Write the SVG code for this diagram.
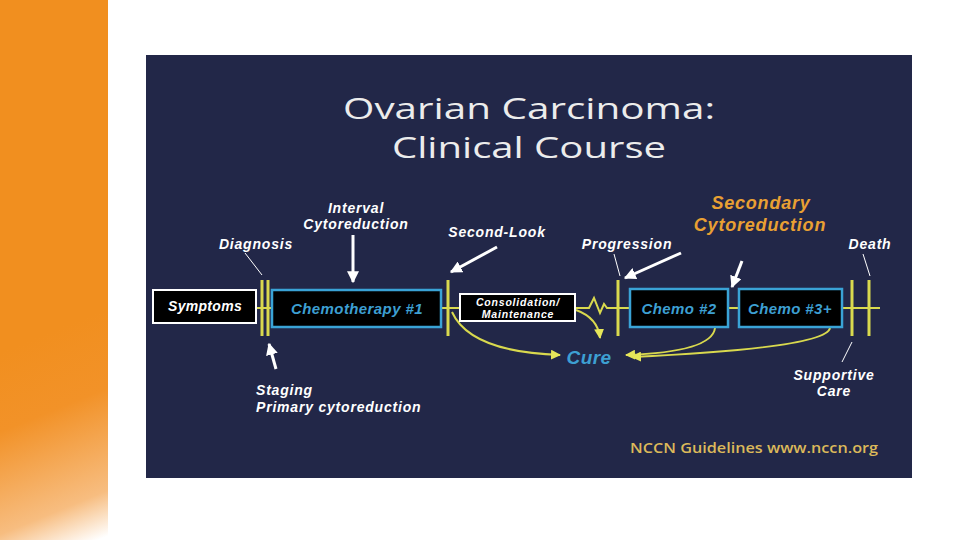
<svg xmlns="http://www.w3.org/2000/svg" width="960" height="540" viewBox="0 0 960 540">
<defs>
<linearGradient id="og" gradientUnits="userSpaceOnUse" x1="30" y1="340" x2="110" y2="535">
<stop offset="0" stop-color="#f18f1f"/>
<stop offset="0.35" stop-color="#f29228"/>
<stop offset="0.8" stop-color="#f7bd80"/>
<stop offset="1" stop-color="#ffffff"/>
</linearGradient>
<marker id="wa" viewBox="0 0 10 10" refX="9" refY="5" markerWidth="4" markerHeight="4" orient="auto"><path d="M0,0 L10,5 L0,10 z" fill="#ffffff"/></marker>
<marker id="ya" viewBox="0 0 10 10" refX="9" refY="5" markerWidth="5" markerHeight="5" orient="auto"><path d="M0,0 L10,5 L0,10 z" fill="#e6e65a"/></marker>
<style>
.lbl{font-family:"Liberation Sans",Arial,sans-serif;font-weight:bold;font-style:italic;font-size:14px;fill:#ffffff;letter-spacing:0.8px}
.wb{fill:#000;stroke:#ffffff;stroke-width:2}
.bb{fill:#000;stroke:#3aa3d6;stroke-width:2.5}
.bt{font-family:"Liberation Sans",Arial,sans-serif;font-weight:bold;font-style:italic;font-size:15px;fill:#3d9fd2;letter-spacing:0.4px}
.bar{stroke:#d9d94e;stroke-width:3}
.yl{stroke:#d9d94e;stroke-width:2;fill:none}
.wl{stroke:#ffffff;stroke-width:1;fill:none}
.wa{stroke:#ffffff;stroke-width:3;fill:none;marker-end:url(#wa)}
.ttl{font-family:"Open Sans","Liberation Sans",sans-serif;font-size:30px;fill:#ececec}
</style>
</defs>
<rect x="0" y="0" width="960" height="540" fill="#ffffff"/>
<rect x="0" y="0" width="108" height="540" fill="url(#og)"/>
<rect x="146" y="55" width="766" height="423" fill="#222748"/>
<g id="title">
<text class="ttl" x="529" y="119" text-anchor="middle" textLength="372" lengthAdjust="spacingAndGlyphs">Ovarian Carcinoma:</text>
<text class="ttl" x="529" y="158" text-anchor="middle" textLength="274" lengthAdjust="spacingAndGlyphs">Clinical Course</text>
</g>

<g id="connectors">
<line class="yl" x1="256" y1="308" x2="272" y2="308"/>
<line class="yl" x1="441" y1="308" x2="460" y2="308"/>
<path class="yl" d="M575,308 L589,308 L594,298 L600,313 L604,304 L607,308 L630,308"/>
<line class="yl" x1="728" y1="308" x2="739" y2="308"/>
<line class="yl" x1="842" y1="308" x2="880" y2="308"/>
<path class="yl" d="M576,310 Q598,318 600,338" marker-end="url(#ya)"/>
<path class="yl" d="M452,312 Q470,352 560,355" marker-end="url(#ya)"/>
<path class="yl" d="M715,328 Q712,352 626,355" marker-end="url(#ya)"/>
<path class="yl" d="M830,328 Q826,348 632,357" marker-end="url(#ya)"/>
<line class="wl" x1="245" y1="253" x2="262" y2="275"/>
<line class="wl" x1="614" y1="254" x2="620" y2="276"/>
<line class="wl" x1="863" y1="254" x2="870" y2="276"/>
<line class="wl" x1="852" y1="342" x2="842" y2="362"/>
<line class="wa" x1="353" y1="235" x2="353" y2="282"/>
<line class="wa" x1="276" y1="369" x2="269" y2="344"/>
<line class="wa" x1="497" y1="247" x2="451" y2="272"/>
<line class="wa" x1="681" y1="253" x2="625" y2="278"/>
<line class="wa" x1="742" y1="261" x2="732" y2="287"/>
</g>

<g id="diagnosis-bars"><line class="bar" x1="262" y1="280" x2="262" y2="336"/><line class="bar" x1="268" y1="280" x2="268" y2="336"/></g>
<g id="secondlook-bar"><line class="bar" x1="448" y1="280" x2="448" y2="336"/></g>
<g id="progression-bar"><line class="bar" x1="618" y1="280" x2="618" y2="336"/></g>
<g id="death-bars"><line class="bar" x1="852" y1="280" x2="852" y2="336"/><line class="bar" x1="869" y1="280" x2="869" y2="336"/></g>

<g id="symptoms"><rect class="wb" x="153" y="290" width="103" height="33"/><text class="lbl" x="205" y="311" text-anchor="middle" style="letter-spacing:0.3px">Symptoms</text></g>
<g id="chemo1"><rect class="bb" x="272" y="290" width="169" height="37"/><text class="bt" x="357" y="314" text-anchor="middle">Chemotherapy #1</text></g>
<g id="consolidation"><rect class="wb" x="460" y="294" width="115" height="27"/><text class="lbl" x="518" y="306" text-anchor="middle" style="font-size:10.5px">Consolidation/</text><text class="lbl" x="518" y="318" text-anchor="middle" style="font-size:10.5px">Maintenance</text></g>
<g id="chemo2"><rect class="bb" x="630" y="289" width="98" height="38"/><text class="bt" x="679" y="314" text-anchor="middle">Chemo #2</text></g>
<g id="chemo3"><rect class="bb" x="739" y="289" width="103" height="38"/><text class="bt" x="790" y="314" text-anchor="middle">Chemo #3+</text></g>
<g id="cure"><text class="bt" x="589" y="364" text-anchor="middle" style="font-size:19px">Cure</text></g>

<g id="labels">
<text class="lbl" x="256" y="249" text-anchor="middle">Diagnosis</text>
<text class="lbl" x="356" y="213" text-anchor="middle">Interval</text>
<text class="lbl" x="356" y="229" text-anchor="middle">Cytoreduction</text>
<text class="lbl" x="497" y="237" text-anchor="middle">Second-Look</text>
<text class="lbl" x="627" y="249" text-anchor="middle">Progression</text>
<text class="lbl" x="870" y="249" text-anchor="middle">Death</text>
<text class="lbl" x="834" y="380" text-anchor="middle">Supportive</text>
<text class="lbl" x="834" y="396" text-anchor="middle">Care</text>
<text class="lbl" x="256" y="395">Staging</text>
<text class="lbl" x="256" y="412">Primary cytoreduction</text>
<text class="lbl" x="761" y="209" text-anchor="middle" style="font-size:18px;fill:#e9a033">Secondary</text>
<text class="lbl" x="760" y="231" text-anchor="middle" style="font-size:18px;fill:#e9a033">Cytoreduction</text>
</g>
<text x="630" y="453" font-family="Open Sans,Liberation Sans,sans-serif" font-size="15" font-weight="600" fill="#dcb95a" textLength="248" lengthAdjust="spacingAndGlyphs">NCCN Guidelines www.nccn.org</text>
</svg>
